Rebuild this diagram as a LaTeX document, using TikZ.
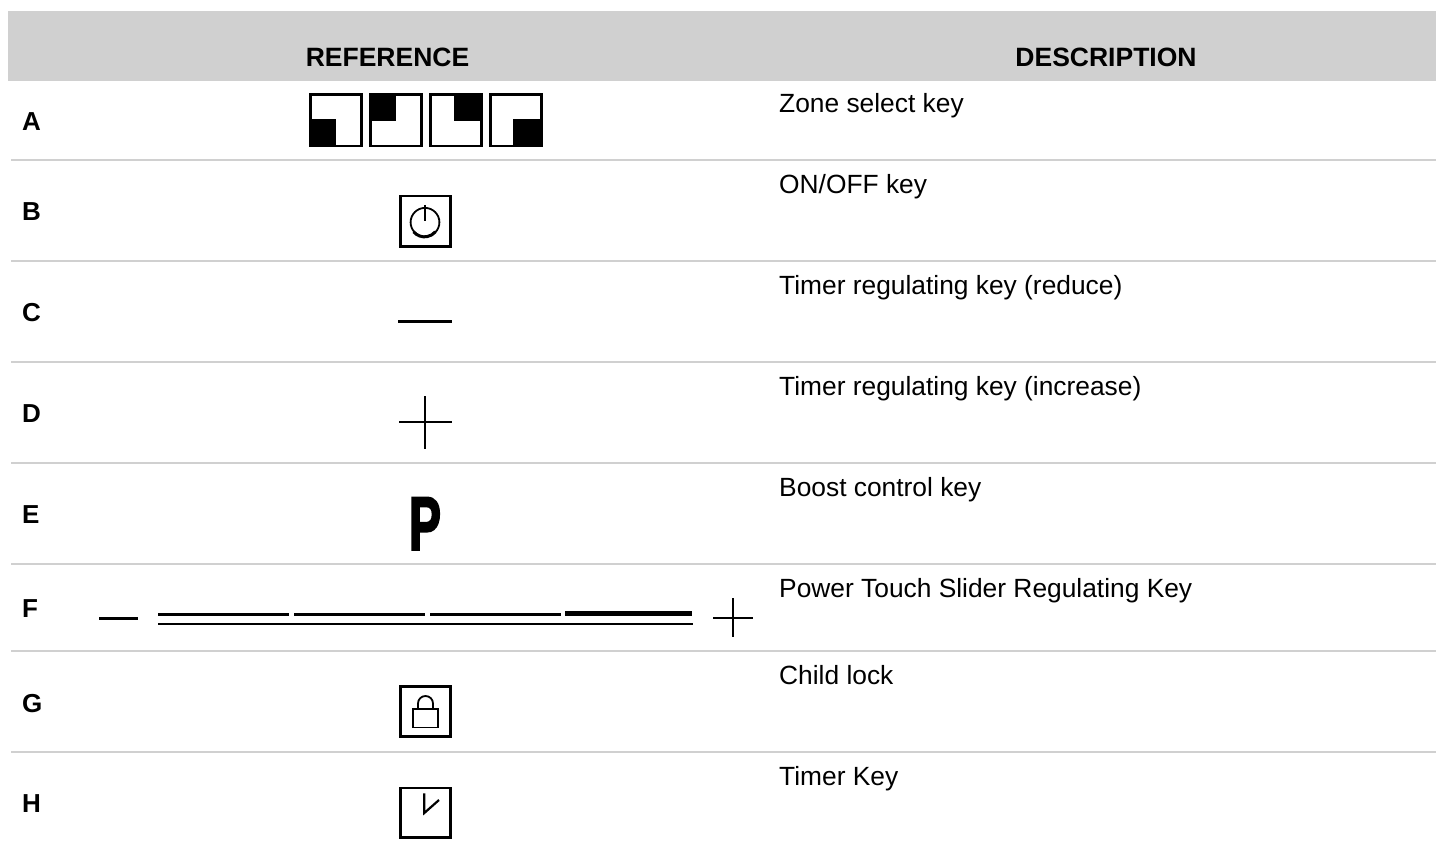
\documentclass[tikz,border=0pt]{standalone}
\usepackage{fontspec}
\usepackage{graphicx}
\setmainfont{Liberation Sans}
\newfontfamily\heavyp[FakeBold=3]{Liberation Sans Bold}
\definecolor{hdr}{HTML}{D0D0D0}
\definecolor{rule}{HTML}{D0D0D0}
\tikzset{
  x=1pt,y=-1pt,
  rowrule/.style={draw=rule,line width=2pt},
  keybox/.style={draw=black,line width=2.4pt,fill=white},
  bigbox/.style={draw=black,line width=2.8pt,fill=white},
  glyphline/.style={draw=black,line width=1.8pt},
  lab/.style={anchor=base west,inner sep=0pt,font=\fontsize{26}{26}\selectfont\bfseries},
  desc/.style={anchor=base west,inner sep=0pt,font=\fontsize{26.35}{26.35}\selectfont},
  head/.style={anchor=base,inner sep=0pt,font=\fontsize{26.5}{26.5}\selectfont\bfseries},
}
\begin{document}
\begin{tikzpicture}
\useasboundingbox (0,0) rectangle (1436,845);
\fill[white] (0,0) rectangle (1436,845);
\fill[hdr] (8,11) rectangle (1436,81);
\foreach \y in {160,261,362,463,564,651,752}
  \draw[rowrule] (11,\y) -- (1436,\y);
\node[head] (refh) at (387.5,66.5) {REFERENCE};
\node[head] (desch) at (1106,66.5) {DESCRIPTION};
% labels
\node[lab] (la) at (22,131) {A};
\node[lab] (lb) at (22,221) {B};
\node[lab] (lc) at (22,321) {C};
\node[lab] (ld) at (22,422.5) {D};
\node[lab] (le) at (22,523) {E};
\node[lab] (lf) at (22,617) {F};
\node[lab] (lg) at (22,712) {G};
\node[lab] (lh) at (22,812.5) {H};
% descriptions
\node[desc] (da) at (779,112.5) {Zone select key};
\node[desc] (db) at (779,193.5) {ON/OFF key};
\node[desc] (dc) at (779,294.5) {Timer regulating key (reduce)};
\node[desc] (dd) at (779,395.5) {Timer regulating key (increase)};
\node[desc] (de) at (779,496.5) {Boost control key};
\node[desc] (df) at (779,597.5) {Power Touch Slider Regulating Key};
\node[desc] (dg) at (779,684.5) {Child lock};
\node[desc] (dh) at (779,785.5) {Timer Key};
% A
\draw[keybox] (310.4,94.4) rectangle (361.6,145.9);
\fill (309.3,119) rectangle (336.3,147);
\draw[keybox] (370.4,94.4) rectangle (421.6,145.9);
\fill (369.3,93.3) rectangle (396,121);
\draw[keybox] (430.4,94.4) rectangle (481.6,145.9);
\fill (453.7,93.3) rectangle (482.8,121);
\draw[keybox] (490.4,94.4) rectangle (541.6,145.9);
\fill (513.3,119) rectangle (542.8,147);
% B
\draw[bigbox] (400.3,196) rectangle (450.5,246.2);
\draw[glyphline] (425,222.3) circle (14.4);
\draw[black,line width=3pt] (413.6,231.8) arc (140:40:14.2);
\draw[glyphline] (425,205) -- (425,221);
% C
\draw[black,line width=3pt] (398,321.3) -- (452,321.3);
% D
\draw[black,line width=2.2pt] (399,422.3) -- (452,422.3);
\draw[black,line width=2.2pt] (425.3,396) -- (425.3,449.3);
% E
\node[inner sep=0pt,anchor=center] (pk) at (425,523.7) {\resizebox{32pt}{52pt}{\heavyp P}};
% F
\draw[black,line width=3pt] (99,618.3) -- (138,618.3);
\draw[black,line width=3pt] (158,614.3) -- (289,614.3);
\draw[black,line width=3pt] (294,614.3) -- (425,614.3);
\draw[black,line width=3pt] (430,614.3) -- (561,614.3);
\draw[black,line width=5pt] (565,613.3) -- (692,613.3);
\draw[black,line width=2.2pt] (158,623.7) -- (693,623.7);
\draw[black,line width=1.8pt] (713,617.7) -- (752.7,617.7);
\draw[black,line width=1.8pt] (733,598) -- (733,637);
% G
\draw[bigbox] (400.3,686.7) rectangle (450.5,736.5);
\draw[glyphline] (413,708.8) rectangle (438,727.4);
\draw[glyphline] (418,708.8) -- (418,703.5) arc (180:360:7.5) -- (433,708.8);
% H
\draw[bigbox] (400.3,788) rectangle (450.5,837.2);
\draw[black,line width=2.2pt,line join=miter] (424.3,793.3) -- (424.3,813) -- (439,800);
\end{tikzpicture}
\end{document}
